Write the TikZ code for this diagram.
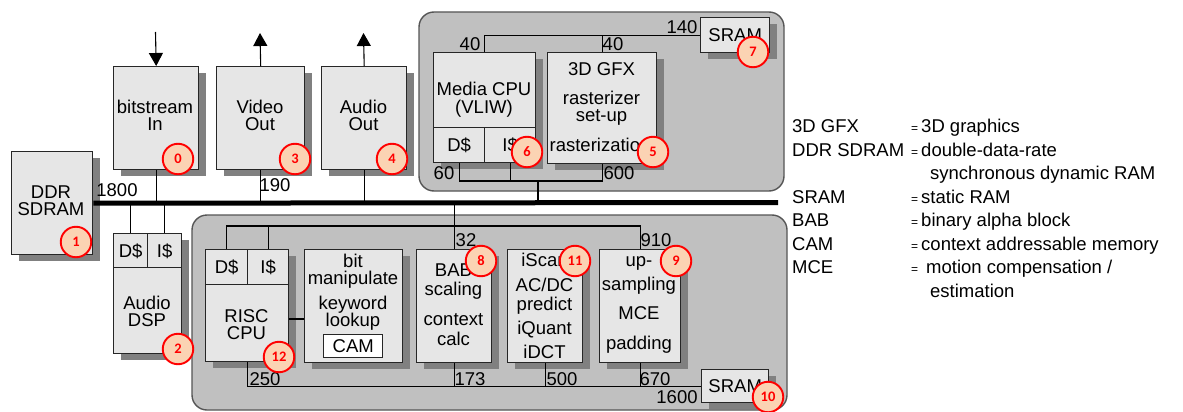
\documentclass[tikz,border=0pt]{standalone}
\usepackage{fontspec}
\setmainfont{Liberation Sans}
\newfontfamily\badgefont{Carlito}
\usetikzlibrary{arrows.meta,shadows}
\definecolor{boxfill}{HTML}{E6E6E6}
\definecolor{shade}{HTML}{808080}
\definecolor{regfill}{HTML}{C0C0C0}
\definecolor{regline}{HTML}{555555}
\definecolor{badgefill}{HTML}{FBD3B3}
\definecolor{badgered}{HTML}{FF0000}
\newcommand\bxfont{\fontsize{18.5}{20}\selectfont}
\newcommand\eqs{{\fontsize{12}{12}\selectfont=}\hspace{3pt}}
\begin{document}
\begin{tikzpicture}[x=1pt,y=-1pt,
 blk/.style={draw=black!85, fill=boxfill, line width=1.4pt, anchor=north west, inner sep=0pt,
   font=\bxfont, text height=13.2pt, text depth=0pt,
   drop shadow={shadow xshift=7pt,shadow yshift=-6pt,fill=shade,opacity=1}},
 cell/.style={draw=black!85, fill=boxfill, line width=1.4pt, anchor=north west, inner sep=0pt,
   font=\bxfont, text height=13.2pt, text depth=0pt},
 region/.style={draw=regline, fill=regfill, line width=1.4pt, rounded corners=15pt},
 wire/.style={draw=black, line width=1.1pt},
 bus/.style={draw=black, line width=5pt},
 bt/.style={font=\bxfont, inner sep=0pt, text height=13.2pt, text depth=0pt},
 lg/.style={font=\bxfont, inner sep=0pt, text height=13.2pt, text depth=0pt, anchor=west},
 badge/.style={circle, draw=badgered, fill=badgefill, line width=1.9pt, minimum size=30.5pt,
   inner sep=0pt, font=\badgefont\bfseries\fontsize{14.5}{15}\selectfont, text=badgered},
 tip/.style={-{Triangle[width=14pt,length=13pt]}}
]
\useasboundingbox (0,0) rectangle (1183,412);

% regions
\draw[region] (419,12) rectangle (784,191);
\draw[region] (192,215) rectangle (787,410);

% blocks
\node[blk, minimum width=81pt, minimum height=103pt] (ddr) at (11,151) {};
\node[blk, minimum width=85pt, minimum height=103pt] (bits) at (113,66) {};
\node[blk, minimum width=88pt, minimum height=103pt] (vid) at (216,66) {};
\node[blk, minimum width=85pt, minimum height=103pt] (aud) at (321,66) {};
\node[blk, minimum width=102pt, minimum height=110pt] (mcpu) at (433,52) {};
\node[cell, minimum width=51pt, minimum height=35pt] (mD) at (433,127) {D\$};
\node[cell, minimum width=51pt, minimum height=35pt] (mI) at (484,127) {I\$};
\node[blk, minimum width=109pt, minimum height=111pt] (gfx) at (547,52) {};
\node[blk, minimum width=69pt, minimum height=35pt] (sramT) at (700,17) {SRAM};
\node[blk, minimum width=68pt, minimum height=120pt] (dsp) at (113,233) {};
\node[cell, minimum width=34pt, minimum height=34pt] (dspD) at (113,233) {D\$};
\node[cell, minimum width=34pt, minimum height=34pt] (dspI) at (147,233) {I\$};
\node[blk, minimum width=83pt, minimum height=112pt] (risc) at (205,249) {};
\node[cell, minimum width=42pt, minimum height=35pt] (rD) at (205,249) {D\$};
\node[cell, minimum width=41pt, minimum height=35pt] (rI) at (247,249) {I\$};
\node[blk, minimum width=98pt, minimum height=113pt] (bitm) at (304,249) {};
\node[cell, fill=white, minimum width=59pt, minimum height=23pt] (cam) at (323,334) {CAM};
\node[blk, minimum width=75pt, minimum height=113pt] (bab) at (416,249) {};
\node[blk, minimum width=75pt, minimum height=113pt] (isc) at (507,249) {};
\node[blk, minimum width=81pt, minimum height=113pt] (ups) at (599,249) {};
\node[blk, minimum width=67pt, minimum height=33pt] (sramB) at (701,369) {SRAM};

% coordinates
\coordinate (busR) at (778,202.5);
\coordinate (inS) at (155.5,32);
\coordinate (vidT) at (260,33);
\coordinate (audT) at (363.5,33);
\coordinate (tb) at (538,181);
\coordinate (lt) at (0,226);
\coordinate (rb) at (0,319);

% bus and wires
\draw[bus] (ddr.east) -- (busR);
\draw[wire, tip] (inS) -- (bits.north);
\draw[wire] (bits.south) -- (bits.south |- busR);
\draw[wire, tip] (vid.north) -- (vidT);
\draw[wire] (vid.south) -- (vid.south |- busR);
\draw[wire, tip] (aud.north) -- (audT);
\draw[wire] (aud.south) -- (aud.south |- busR);
\draw[wire] (dspD.north) -- (dspD.north |- busR);
\draw[wire] (dspI.north) -- (dspI.north |- busR);
\draw[wire] (mcpu.north) |- (sramT.west);
\draw[wire] (gfx.north) -- (gfx.north |- sramT.west);
\draw[wire] (mD.south) -- (mD.south |- tb) -| (gfx.south);
\draw[wire] (mI.south) -- (mI.south |- tb);
\draw[wire] (tb) -- (tb |- busR);
\draw[wire] (rD.north) -- (rD.north |- lt) -| (ups.north);
\draw[wire] (rI.north) -- (rI.north |- lt);
\draw[wire] (bab.north |- busR) -- (bab.north);
\draw[wire] (risc.south) |- (sramB.west);
\draw[wire] (bab.south) -- (bab.south |- sramB.west);
\draw[wire] (isc.south) -- (isc.south |- sramB.west);
\draw[wire] (ups.south) -- (ups.south |- sramB.west);
\draw[wire] (risc.east |- rb) -- (bitm.west |- rb);

% bandwidth labels
\node[bt] (n1800) at (117,190) {1800};
\node[bt] (n190) at (275,184.5) {190};
\node[bt] (n40a) at (470,43.5) {40};
\node[bt] (n40b) at (613,43.5) {40};
\node[bt] (n140) at (682,26.5) {140};
\node[bt] (n60) at (444,173) {60};
\node[bt] (n600) at (619,173) {600};
\node[bt] (n32) at (466,240) {32};
\node[bt] (n910) at (656,240) {910};
\node[bt] (n250) at (265,379) {250};
\node[bt] (n173) at (470,379) {173};
\node[bt] (n500) at (562,379) {500};
\node[bt] (n670) at (655,379) {670};
\node[bt] (n1600) at (677,397) {1600};

% block texts
\node[bt] (tddr1) at (51,192) {DDR};
\node[bt] (tddr2) at (51,209) {SDRAM};
\node[bt] (tbit1) at (155,107) {bitstream};
\node[bt] (tbit2) at (155,124) {In};
\node[bt] (tvid1) at (260,107) {Video};
\node[bt] (tvid2) at (260,124) {Out};
\node[bt] (taud1) at (363.5,107) {Audio};
\node[bt] (taud2) at (363.5,124) {Out};
\node[bt] (tmc1) at (484,89) {Media CPU};
\node[bt] (tmc2) at (484,107) {(VLIW)};
\node[bt] (tg1) at (601.5,68.5) {3D GFX};
\node[bt] (tg2) at (601.5,97.5) {rasterizer};
\node[bt] (tg3) at (601.5,114.5) {set-up};
\node[bt] (tg4) at (600,145) {rasterization};
\node[bt] (tdsp1) at (147,303) {Audio};
\node[bt] (tdsp2) at (147,320) {DSP};
\node[bt] (tr1) at (246.5,316) {RISC};
\node[bt] (tr2) at (246.5,333) {CPU};
\node[bt] (tbm1) at (353,260.5) {bit};
\node[bt] (tbm2) at (353,278) {manipulate};
\node[bt] (tbm3) at (353,303) {keyword};
\node[bt] (tbm4) at (353,319.5) {lookup};
\node[bt] (tbab1) at (453.5,269.5) {BAB};
\node[bt] (tbab2) at (453.5,288.5) {scaling};
\node[bt] (tbab3) at (453.5,318.5) {context};
\node[bt] (tbab4) at (453.5,338.5) {calc};
\node[bt] (tis1) at (544.5,260) {iScan};
\node[bt] (tis2) at (544.5,284.5) {AC/DC};
\node[bt] (tis3) at (544.5,304) {predict};
\node[bt] (tis4) at (544.5,328) {iQuant};
\node[bt] (tis5) at (544.5,351.5) {iDCT};
\node[bt] (tup1) at (639,260) {up-};
\node[bt] (tup2) at (639,283.5) {sampling};
\node[bt] (tup3) at (639,313) {MCE};
\node[bt] (tup4) at (639,343) {padding};

% badges
\node[badge] (b0) at (178,159) {0};
\node[badge] (b1) at (76,242) {1};
\node[badge] (b2) at (178,349) {2};
\node[badge] (b3) at (295,159) {3};
\node[badge] (b4) at (392,159) {4};
\node[badge] (b5) at (653,152) {5};
\node[badge] (b6) at (527,152) {6};
\node[badge] (b7) at (753,52) {7};
\node[badge] (b8) at (481,261) {8};
\node[badge] (b9) at (676,261) {9};
\node[badge] (b10) at (768,397) {10};
\node[badge] (b11) at (575,261) {11};
\node[badge] (b12) at (279,357) {12};

% legend
\node[lg] (lg1) at (792,126) {\makebox[119pt][l]{3D GFX}\eqs 3D graphics};
\node[lg] (lg2) at (792,149.5) {\makebox[119pt][l]{DDR SDRAM}\eqs double-data-rate};
\node[lg] (lg3) at (930,173) {synchronous dynamic RAM};
\node[lg] (lg4) at (792,196.5) {\makebox[119pt][l]{SRAM}\eqs static RAM};
\node[lg] (lg5) at (792,220) {\makebox[119pt][l]{BAB}\eqs binary alpha block};
\node[lg] (lg6) at (792,243.5) {\makebox[119pt][l]{CAM}\eqs context addressable memory};
\node[lg] (lg7) at (792,267) {\makebox[119pt][l]{MCE}\eqs\hspace{5pt}motion compensation /};
\node[lg] (lg8) at (930,290.5) {estimation};
\end{tikzpicture}
\end{document}
